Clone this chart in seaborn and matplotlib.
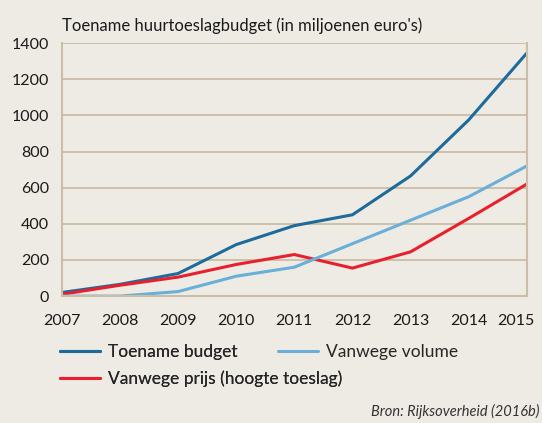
import seaborn as sns
import pandas as pd
import matplotlib.pyplot as plt
import matplotlib.transforms as mtransforms

years = [2007, 2008, 2009, 2010, 2011, 2012, 2013, 2014, 2015]
toename_budget = [20, 65, 125, 285, 390, 450, 665, 975, 1345]
vanwege_volume = [0, 0, 25, 110, 160, 290, 420, 550, 720]
vanwege_prijs = [10, 60, 105, 175, 230, 155, 245, 430, 620]
series_names = ["Toename budget", "Vanwege prijs (hoogte toeslag)", "Vanwege volume"]
colors = ["#1d6b9b", "#e8202e", "#6aafd8"]

df = pd.concat([
    pd.DataFrame({"Jaar": years, "Waarde": toename_budget, "Reeks": series_names[0]}),
    pd.DataFrame({"Jaar": years, "Waarde": vanwege_prijs, "Reeks": series_names[1]}),
    pd.DataFrame({"Jaar": years, "Waarde": vanwege_volume, "Reeks": series_names[2]}),
], ignore_index=True)

bg = "#eeebe4"
tan = "#cbbda6"
sns.set_style("white")
plt.rcParams["font.family"] = ["Lato", "DejaVu Sans"]

fig = plt.figure(figsize=(5.42, 4.23), dpi=100, facecolor=bg)
ax = fig.add_axes([0.114, 0.300, 0.858, 0.598])
ax.set_facecolor(bg)

sns.lineplot(data=df, x="Jaar", y="Waarde", hue="Reeks", hue_order=series_names,
             palette=colors, linewidth=2.2, ax=ax, legend=False)

ax.set_xlim(2007, 2015)
ax.set_ylim(0, 1400)
ax.set_xticks(years)
ax.set_yticks(range(0, 1401, 200))
ax.set_xlabel("")
ax.set_ylabel("")
ax.grid(axis="y", color=tan, linewidth=1.3)
ax.set_axisbelow(True)
for side in ["left", "right", "bottom"]:
    ax.spines[side].set_color(tan)
    ax.spines[side].set_linewidth(1.5)
ax.spines["top"].set_visible(False)
ax.tick_params(axis="x", length=5, color=tan, width=1.2, labelsize=11.5, pad=8)
ax.tick_params(axis="y", length=3, color=tan, width=1.2, labelsize=11.5, pad=6)
for lbl in ax.get_xticklabels() + ax.get_yticklabels():
    lbl.set_color("#1a1a1a")
# last year label sits a little to the left so it stays inside the figure
last = ax.get_xticklabels()[-1]
last.set_transform(last.get_transform() + mtransforms.ScaledTranslation(-8 / 72, 0, fig.dpi_scale_trans))

fig.text(0.114, 0.94, "Toename huurtoeslagbudget (in miljoenen euro's)",
         fontsize=12, color="#1a1a1a", ha="left", va="center")

handles = [plt.Line2D([], [], color=c, linewidth=2.2) for c in colors]
leg1 = fig.legend([handles[0], handles[1]], series_names[:2], frameon=False, fontsize=12.5,
                  loc="upper left", bbox_to_anchor=(0.098, 0.203), borderaxespad=0,
                  handlelength=2.3, handletextpad=0.45, labelspacing=0.6)
fig.add_artist(leg1)
fig.legend([handles[2]], series_names[2:], frameon=False, fontsize=12.5,
           loc="upper left", bbox_to_anchor=(0.5, 0.203), borderaxespad=0,
           handlelength=2.3, handletextpad=0.45)

fig.text(0.995, 0.028, "Bron: Rijksoverheid (2016b)", fontsize=10.5, style="italic",
         color="#333333", ha="right", va="center")

fig.savefig("out.png", dpi=100, facecolor=bg)
